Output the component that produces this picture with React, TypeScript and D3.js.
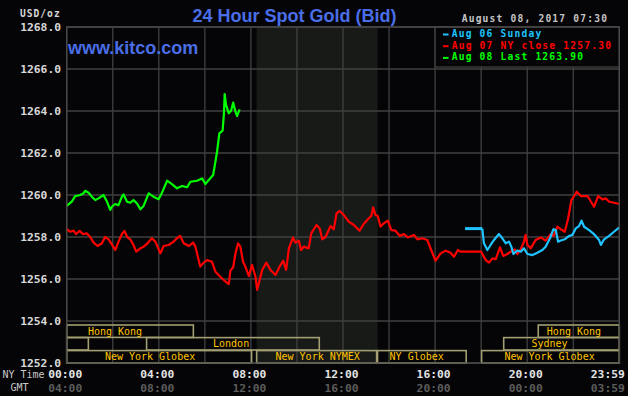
import React from "react";
import * as d3 from "d3";

const W = 628;
const H = 396;

const yTicks = [1268, 1266, 1264, 1262, 1260, 1258, 1256, 1254, 1252];
const xGridHours = [0, 2, 4, 6, 8, 10, 12, 14, 16, 18, 20, 22, 24];
const nyTimeLabels = ["00:00", "04:00", "08:00", "12:00", "16:00", "20:00", "23:59"];
const gmtLabels = ["04:00", "08:00", "12:00", "16:00", "20:00", "00:00", "03:59"];
const labelHours = [0, 4, 8, 12, 16, 20, 24];

// Aug 08 (today) – green
const greenSeries: [number, number][] = [
  [0, 1259.48], [0.22, 1259.68], [0.37, 1259.95], [0.59, 1260.0], [0.73, 1260.08], [0.8, 1260.2],
  [0.95, 1260.11], [1.09, 1259.92], [1.24, 1259.76], [1.38, 1259.84], [1.6, 1260.0], [1.75, 1259.68],
  [1.89, 1259.29], [1.96, 1259.44], [2.1, 1259.57], [2.25, 1259.52], [2.4, 1259.92], [2.47, 1260.03],
  [2.62, 1259.68], [2.76, 1259.63], [2.9, 1259.76], [3.05, 1259.6], [3.2, 1259.32], [3.34, 1259.48],
  [3.56, 1260.08], [3.77, 1259.92], [3.99, 1259.8], [4.14, 1260.11], [4.36, 1260.68], [4.57, 1260.52],
  [4.79, 1260.32], [5.01, 1260.43], [5.23, 1260.37], [5.37, 1260.63], [5.66, 1260.68], [5.88, 1260.79],
  [6.02, 1260.52], [6.17, 1260.71], [6.36, 1260.95], [6.41, 1261.27], [6.53, 1262.06], [6.63, 1262.94],
  [6.77, 1263.06], [6.83, 1263.89], [6.86, 1264.81], [6.92, 1264.29], [7.04, 1263.89], [7.14, 1264.01],
  [7.23, 1264.4], [7.33, 1263.97], [7.4, 1263.76], [7.51, 1264.08],
];

// Aug 07 NY close – red
const redSeries: [number, number][] = [
  [0, 1258.37], [0.15, 1258.25], [0.3, 1258.3], [0.41, 1258.14], [0.56, 1258.29], [0.7, 1258.14],
  [0.88, 1258.17], [1.02, 1258.0], [1.17, 1257.73], [1.34, 1257.57], [1.53, 1257.7], [1.67, 1258.0],
  [1.82, 1257.89], [1.96, 1257.65], [2.11, 1257.38], [2.25, 1257.78], [2.4, 1258.14], [2.51, 1258.29],
  [2.62, 1258.0], [2.76, 1257.89], [2.9, 1257.62], [3.02, 1257.3], [3.2, 1257.46], [3.34, 1257.54],
  [3.51, 1257.7], [3.7, 1257.94], [3.85, 1257.78], [4.07, 1257.22], [4.21, 1257.57], [4.43, 1257.62],
  [4.64, 1257.78], [4.79, 1257.94], [4.93, 1258.05], [5.08, 1257.7], [5.3, 1257.57], [5.49, 1257.73],
  [5.59, 1257.54], [5.8, 1256.59], [5.95, 1256.78], [6.1, 1256.9], [6.31, 1256.82], [6.46, 1256.35],
  [6.67, 1256.11], [6.82, 1255.95], [7.04, 1255.76], [7.11, 1256.4], [7.23, 1256.56], [7.33, 1257.22],
  [7.44, 1257.7], [7.54, 1257.54], [7.66, 1256.82], [7.76, 1256.59], [7.91, 1256.14], [8.05, 1256.67],
  [8.2, 1256.11], [8.27, 1255.48], [8.38, 1255.95], [8.49, 1256.43], [8.67, 1256.78], [8.85, 1256.43],
  [9.07, 1256.19], [9.25, 1256.59], [9.4, 1256.87], [9.53, 1256.43], [9.65, 1257.46], [9.83, 1257.98],
  [9.93, 1257.73], [10.08, 1257.83], [10.18, 1257.38], [10.3, 1257.54], [10.51, 1257.46], [10.62, 1258.17],
  [10.85, 1258.57], [10.99, 1258.41], [11.1, 1257.89], [11.24, 1258.0], [11.46, 1258.52], [11.6, 1258.37],
  [11.72, 1259.13], [11.86, 1259.24], [12.03, 1259.05], [12.25, 1258.73], [12.47, 1258.57], [12.72, 1258.3],
  [12.9, 1258.62], [13.12, 1258.89], [13.23, 1259.0], [13.31, 1259.41], [13.41, 1259.05], [13.51, 1259.0],
  [13.63, 1258.49], [13.77, 1258.65], [13.95, 1258.78], [14.1, 1258.33], [14.28, 1258.3], [14.47, 1258.05],
  [14.64, 1258.14], [14.82, 1257.98], [15.08, 1258.1], [15.23, 1257.89], [15.44, 1257.94], [15.66, 1257.86],
  [15.83, 1257.38], [16.02, 1256.87], [16.24, 1257.22], [16.46, 1257.35], [16.67, 1257.25], [16.82, 1257.06],
  [16.99, 1257.38], [17.1, 1257.3], [18.0, 1257.3], [18.2, 1256.9], [18.34, 1256.78], [18.49, 1256.98],
  [18.63, 1256.94], [18.82, 1257.51], [18.96, 1257.1], [19.14, 1257.19], [19.28, 1257.3], [19.46, 1257.41],
  [19.57, 1257.19], [19.72, 1257.41], [19.86, 1257.78], [19.93, 1258.1], [20.01, 1257.62], [20.15, 1257.46],
  [20.37, 1257.86], [20.59, 1257.98], [20.8, 1257.83], [21.02, 1258.14], [21.14, 1258.05], [21.31, 1258.49],
  [21.46, 1258.37], [21.63, 1258.25], [21.77, 1258.84], [21.92, 1259.76], [22.07, 1260.0], [22.15, 1260.16],
  [22.33, 1259.95], [22.62, 1259.95], [22.9, 1259.44], [23.08, 1259.95], [23.27, 1259.79], [23.41, 1259.84],
  [23.56, 1259.68], [23.77, 1259.63], [24.0, 1259.57],
];

// Aug 06 Sunday – cyan
const cyanSeries: [number, number][] = [
  [17.3, 1258.4], [18.05, 1258.4], [18.12, 1257.7], [18.27, 1257.38], [18.41, 1257.62], [18.56, 1257.86],
  [18.77, 1258.14], [18.92, 1257.94], [19.07, 1257.7], [19.21, 1257.78], [19.31, 1257.54], [19.4, 1257.19],
  [19.57, 1257.35], [19.72, 1257.3], [19.86, 1257.46], [20.01, 1257.19], [20.23, 1257.14], [20.44, 1257.25],
  [20.66, 1257.38], [20.8, 1257.54], [20.99, 1257.94], [21.14, 1258.37], [21.24, 1258.33], [21.34, 1257.78],
  [21.46, 1257.83], [21.63, 1257.89], [21.82, 1258.05], [21.96, 1258.1], [22.11, 1258.41], [22.25, 1258.52],
  [22.36, 1258.78], [22.47, 1258.49], [22.69, 1258.33], [22.9, 1258.14], [23.12, 1257.86], [23.2, 1257.62],
  [23.34, 1257.89], [23.56, 1258.05], [23.77, 1258.25], [24.0, 1258.46],
];

const legendLabels = ["Aug 06 Sunday", "Aug 07 NY close 1257.30", "Aug 08 Last 1263.90"];

// market sessions: name, start hour, end hour, row, label hour
const sessionNames = ["Hong Kong", "", "London", "New York Globex", "New York NYMEX", "NY Globex", "New York Globex", "Sydney", "Hong Kong"];
const sessionStarts = [0, 0, 3.47, 0, 8.25, 13.5, 18.02, 18.98, 20.48];
const sessionEnds = [5.5, 0.94, 10.97, 8.03, 13.46, 17.35, 24, 24, 24];
const sessionRows = [0, 1, 1, 2, 2, 2, 2, 1, 0];
const sessionLabelHours = [2.1, 0, 7.14, 3.62, 10.9, 15.2, 20.97, 20.97, 22.03];

const nymexShade = [8.25, 13.5];

const FONT_MONO = "'DejaVu Sans Mono', monospace";
const FONT_SANS = "'Liberation Sans', Arial, sans-serif";

export default function App() {
  const left = 66.7;
  const right = 619.3;
  const top = 27;
  const bottom = 363;

  const x = d3.scaleLinear().domain([0, 24]).range([left, right]);
  const y = d3.scaleLinear().domain([1252, 1268]).range([bottom, top]);

  const line = d3
    .line<[number, number]>()
    .x((d) => x(d[0]))
    .y((d) => y(d[1]));

  const gridColor = "#404040";
  const rowTop = [325, 337.6, 350.6];
  const rowH = 12.4;

  const legendColors = ["#1ec3ff", "#ff0000", "#00ff00"];

  return (
    <svg width={W} height={H} style={{ position: "absolute", left: 0, top: 0, background: "#050507" }}>
      <rect x={0} y={0} width={W} height={H} fill="#050507" />
      {/* NYMEX shade */}
      <rect
        x={x(nymexShade[0])}
        y={top}
        width={x(nymexShade[1]) - x(nymexShade[0])}
        height={bottom - top}
        fill="#181a18"
      />
      {/* grid */}
      {yTicks.map((t) => (
        <line key={"h" + t} x1={left} x2={right} y1={y(t)} y2={y(t)} stroke={gridColor} strokeWidth={1.3} />
      ))}
      {xGridHours.map((h) => (
        <line key={"v" + h} x1={x(h)} x2={x(h)} y1={top} y2={bottom} stroke={gridColor} strokeWidth={1.3} />
      ))}
      {/* sessions */}
      {sessionNames.map((n, i) => (
        <g key={"s" + i}>
          <rect
            x={x(sessionStarts[i])}
            y={rowTop[sessionRows[i]]}
            width={x(sessionEnds[i]) - x(sessionStarts[i])}
            height={rowH}
            fill="none"
            stroke="#a39f72"
            strokeWidth={1.6}
          />
          {n && (
            <text
              x={x(sessionLabelHours[i])}
              y={rowTop[sessionRows[i]] + rowH / 2 + 3.6}
              textAnchor="middle"
              fontFamily={FONT_MONO}
              fontSize={10}
              fill="#ffc400"
            >
              {n}
            </text>
          )}
        </g>
      ))}
      {/* series */}
      <path d={line(redSeries) || ""} fill="none" stroke="#ff0000" strokeWidth={2.2} strokeLinejoin="round" />
      <path d={line(cyanSeries.slice(0, 2)) || ""} fill="none" stroke="#1ec3ff" strokeWidth={3} />
      <path d={line(cyanSeries.slice(1)) || ""} fill="none" stroke="#1ec3ff" strokeWidth={2.2} strokeLinejoin="round" />
      <path d={line(greenSeries) || ""} fill="none" stroke="#00ff00" strokeWidth={2.2} strokeLinejoin="round" />

      {/* legend box */}
      <rect x={x(16)} y={top} width={right - x(16)} height={40} fill="#050507" stroke={gridColor} strokeWidth={1.3} />
      {legendLabels.map((l, i) => (
        <g key={"l" + i}>
          <rect x={443} y={top + 6.5 + i * 11.7} width={5.5} height={2} fill={legendColors[i]} />
          <text
            x={451.7}
            y={top + 10 + i * 11.7}
            fontFamily={FONT_MONO}
            fontWeight="bold"
            fontSize={9.6}
            letterSpacing={1.2}
            fill={legendColors[i]}
          >
            {l}
          </text>
        </g>
      ))}
      {/* frame */}
      <rect x={left} y={top} width={right - left} height={bottom - top} fill="none" stroke="#4a4a4a" strokeWidth={1.3} />

      {/* title etc */}
      <text x={294.5} y={22} textAnchor="middle" fontFamily={FONT_SANS} fontWeight="bold" fontSize={18} fill="#4a6ee8">
        24 Hour Spot Gold (Bid)
      </text>
      <text x={68} y={54} fontFamily={FONT_SANS} fontWeight="bold" fontSize={18} fill="#4a6ee8">
        www.kitco.com
      </text>
      <text x={461.7} y={21.7} fontFamily={FONT_MONO} fontWeight="bold" fontSize={9.6} letterSpacing={1.2} fill="#c4c4c4">
        August 08, 2017 07:30
      </text>
      <text x={20} y={16.5} fontFamily={FONT_MONO} fontWeight="bold" fontSize={9.6} letterSpacing={1.0} fill="#d8d8d8">
        USD/oz
      </text>
      {yTicks.map((t) => (
        <text
          key={"yl" + t}
          x={61}
          y={y(t) + 4}
          textAnchor="end"
          fontFamily={FONT_MONO}
          fontWeight="bold"
          fontSize={11.3}
          fill="#d8d8d8"
        >
          {t.toFixed(1)}
        </text>
      ))}
      <text x={2.5} y={377.5} fontFamily={FONT_MONO} fontSize={10} fill="#c8c8c8">
        NY Time
      </text>
      <text x={10.5} y={391} fontFamily={FONT_MONO} fontSize={10} fill="#c8c8c8">
        GMT
      </text>
      {labelHours.map((h, i) => (
        <g key={"xl" + i}>
          <text
            x={i === labelHours.length - 1 ? x(h) + 5.5 : x(h) - 1.5}
            y={377.5}
            textAnchor={i === labelHours.length - 1 ? "end" : "middle"}
            fontFamily={FONT_MONO}
            fontWeight="bold"
            fontSize={11.3}
            fill="#e4e4e4"
          >
            {nyTimeLabels[i]}
          </text>
          <text
            x={i === labelHours.length - 1 ? x(h) + 5.5 : x(h) - 1.5}
            y={391.5}
            textAnchor={i === labelHours.length - 1 ? "end" : "middle"}
            fontFamily={FONT_MONO}
            fontWeight="bold"
            fontSize={11.3}
            fill="#5c5c5c"
          >
            {gmtLabels[i]}
          </text>
        </g>
      ))}
    </svg>
  );
}
